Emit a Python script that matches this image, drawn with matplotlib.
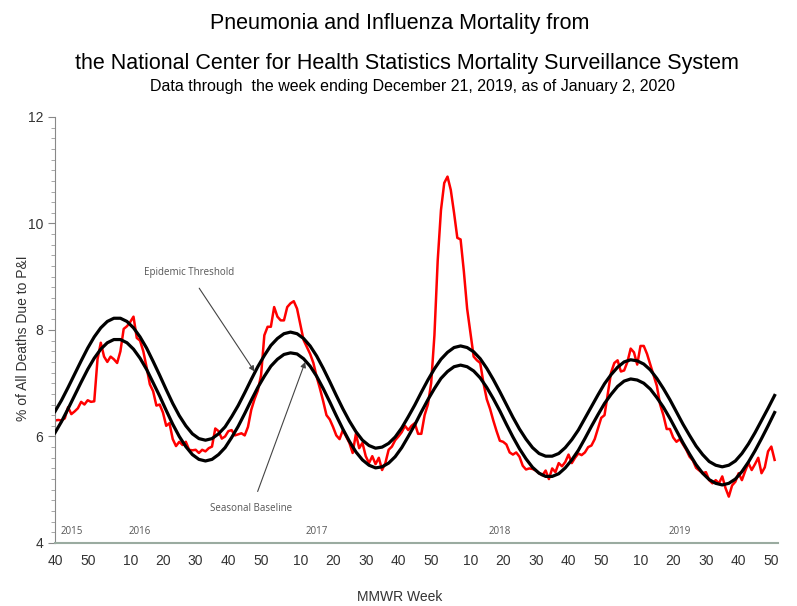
import matplotlib
matplotlib.use("Agg")
import matplotlib.pyplot as plt
from matplotlib.ticker import MultipleLocator

plt.rcParams['font.family'] = ['Liberation Sans', 'DejaVu Sans']

# MMWR weeks: 2015 wk40 .. 2019 wk51 (2015 has 53 weeks)
years = [2015, 2016, 2017, 2018, 2019]
year_first_week = [40, 1, 1, 1, 1]
year_last_week = [53, 52, 52, 52, 51]

# % of all deaths due to P&I, one value per week
pi_pct = [
    6.30, 6.31, 6.30, 6.34, 6.55, 6.42, 6.47, 6.53, 6.65, 6.60,
    6.68, 6.65, 6.66, 7.45, 7.76, 7.50, 7.40, 7.50, 7.45, 7.38,
    7.60, 8.02, 8.07, 8.15, 8.25, 7.85, 7.80, 7.60, 7.30, 6.98,
    6.85, 6.58, 6.60, 6.45, 6.20, 6.25, 5.95, 5.82, 5.90, 5.84,
    5.90, 5.75, 5.74, 5.75, 5.69, 5.75, 5.72, 5.78, 5.81, 6.15,
    6.10, 5.96, 6.00, 6.10, 6.12, 6.02, 6.04, 6.06, 6.02, 6.18,
    6.50, 6.70, 6.86, 7.15, 7.90, 8.06, 8.06, 8.43, 8.25, 8.18,
    8.18, 8.43, 8.50, 8.54, 8.40, 8.10, 7.81, 7.68, 7.55, 7.38,
    7.12, 6.90, 6.66, 6.40, 6.32, 6.18, 6.02, 5.95, 6.12, 6.00,
    5.88, 5.69, 6.05, 5.78, 5.88, 5.63, 5.50, 5.63, 5.48, 5.60,
    5.37, 5.50, 5.75, 5.81, 5.93, 6.00, 6.08, 6.20, 6.12, 6.20,
    6.25, 6.05, 6.05, 6.40, 6.60, 7.00, 7.90, 9.30, 10.25, 10.76,
    10.88, 10.63, 10.20, 9.73, 9.70, 9.10, 8.40, 7.95, 7.50, 7.43,
    7.38, 7.00, 6.70, 6.52, 6.30, 6.10, 5.92, 5.90, 5.85, 5.70,
    5.66, 5.70, 5.62, 5.45, 5.38, 5.40, 5.39, 5.36, 5.31, 5.27,
    5.36, 5.20, 5.40, 5.33, 5.50, 5.44, 5.52, 5.66, 5.50, 5.60,
    5.68, 5.65, 5.70, 5.80, 5.83, 5.95, 6.15, 6.35, 6.40, 6.80,
    7.20, 7.38, 7.43, 7.22, 7.24, 7.40, 7.65, 7.58, 7.35, 7.70,
    7.70, 7.55, 7.35, 7.15, 6.95, 6.60, 6.40, 6.14, 6.14, 5.98,
    5.90, 5.95, 5.85, 5.75, 5.62, 5.55, 5.41, 5.36, 5.31, 5.33,
    5.18, 5.12, 5.18, 5.12, 5.25, 5.03, 4.87, 5.08, 5.15, 5.31,
    5.18, 5.35, 5.50, 5.37, 5.48, 5.60, 5.31, 5.42, 5.72, 5.81,
    5.56,
]

# threshold and baseline, read every second week
threshold = [
    6.47, 6.68, 6.92, 7.17, 7.42, 7.66, 7.87, 8.04, 8.16, 8.22,
    8.22, 8.16, 8.04, 7.87, 7.66, 7.41, 7.15, 6.88, 6.62, 6.39, 6.20, 6.05, 5.96, 5.93,
    5.96, 6.05, 6.18, 6.37, 6.58, 6.82, 7.07, 7.31, 7.52, 7.71, 7.84, 7.93, 7.96,
    7.93, 7.84, 7.70, 7.51, 7.28, 7.03, 6.77, 6.52, 6.29, 6.09, 5.93, 5.83, 5.78,
    5.80, 5.87, 5.99, 6.16, 6.37, 6.59, 6.83, 7.06, 7.27, 7.45, 7.58, 7.67, 7.70,
    7.67, 7.59, 7.46, 7.28, 7.07, 6.84, 6.60, 6.36, 6.14, 5.95, 5.79, 5.68, 5.63,
    5.63, 5.68, 5.79, 5.94, 6.12, 6.34, 6.56, 6.78, 6.99, 7.16, 7.30, 7.40, 7.44,
    7.42, 7.36, 7.25, 7.09, 6.90, 6.69, 6.46, 6.23, 6.02, 5.82, 5.66, 5.53, 5.46, 5.43,
    5.46, 5.54, 5.68, 5.86, 6.07, 6.30, 6.53, 6.77,
]
baseline = [
    6.07, 6.28, 6.52, 6.77, 7.02, 7.26, 7.47, 7.64, 7.76, 7.82,
    7.82, 7.76, 7.64, 7.47, 7.26, 7.01, 6.76, 6.49, 6.23, 6.00, 5.81, 5.66, 5.57, 5.54,
    5.57, 5.66, 5.79, 5.98, 6.19, 6.43, 6.68, 6.92, 7.13, 7.32, 7.45, 7.54, 7.57,
    7.55, 7.46, 7.32, 7.13, 6.90, 6.65, 6.39, 6.14, 5.91, 5.71, 5.56, 5.46, 5.41,
    5.43, 5.50, 5.62, 5.79, 6.00, 6.22, 6.46, 6.69, 6.90, 7.09, 7.22, 7.31, 7.34,
    7.31, 7.23, 7.10, 6.92, 6.71, 6.48, 6.23, 5.99, 5.77, 5.58, 5.42, 5.31, 5.25,
    5.25, 5.30, 5.41, 5.56, 5.74, 5.96, 6.19, 6.41, 6.62, 6.79, 6.94, 7.04, 7.08,
    7.06, 7.00, 6.89, 6.73, 6.55, 6.34, 6.11, 5.88, 5.67, 5.47, 5.31, 5.19, 5.12, 5.09,
    5.12, 5.20, 5.34, 5.52, 5.73, 5.96, 6.20, 6.45,
]

year_label_pos = [5, 26, 80, 136, 191]

weeks = []
for fw, lw in zip(year_first_week, year_last_week):
    weeks += list(range(fw, lw + 1))
x = list(range(len(weeks)))
x2 = x[::2]

fig = plt.figure(figsize=(7.97, 6.06), dpi=100)
ax = fig.add_axes([0.069, 0.104, 0.907, 0.703])

ax.plot(x, pi_pct, color='#ff0000', lw=1.8, zorder=2)
ax.plot(x2, threshold, color='black', lw=2.3, zorder=3)
ax.plot(x2, baseline, color='black', lw=2.3, zorder=3)

ax.set_xlim(0, 221)
ax.set_ylim(4, 12)

ticks = [i for i, w in enumerate(weeks) if w % 10 == 0]
ax.set_xticks(ticks)
ax.set_xticklabels([str(weeks[i]) for i in ticks])
ax.set_yticks([4, 6, 8, 10, 12])
ax.yaxis.set_minor_locator(MultipleLocator(0.2))
ax.tick_params(axis='x', length=0, pad=8, labelsize=10, labelcolor='#333333')
ax.tick_params(axis='y', which='major', length=5, color='#888888', labelsize=10,
               labelcolor='#333333')
ax.tick_params(axis='y', which='minor', length=3, color='#999999')

for s in ['top', 'right']:
    ax.spines[s].set_visible(False)
ax.spines['left'].set_color('#888888')
ax.spines['bottom'].set_color('#9aaba0')
ax.spines['bottom'].set_linewidth(1.5)

for yr, pos in zip(years, year_label_pos):
    ax.text(pos, 4.22, str(yr), fontsize=7, color='#555555', ha='center',
            va='center', family=['Open Sans', 'DejaVu Sans'])

ax.set_ylabel('% of All Deaths Due to P&I', fontsize=10, color='#333333')
ax.yaxis.set_label_coords(-0.035, 0.48)
fig.text(0.502, 0.004, 'MMWR Week', ha='center', va='bottom', fontsize=10,
         color='#333333')

ax.annotate('Epidemic Threshold', xy=(61, 7.22), xytext=(41, 9.07),
            fontsize=7, color='#555555', ha='center', va='center',
            family=['Open Sans', 'DejaVu Sans'],
            arrowprops=dict(arrowstyle='-|>', color='#444444', lw=0.8,
                            mutation_scale=8, shrinkA=6, shrinkB=0))
ax.annotate('Seasonal Baseline', xy=(76.5, 7.40), xytext=(60, 4.64),
            fontsize=7, color='#555555', ha='center', va='center',
            family=['Open Sans', 'DejaVu Sans'],
            arrowprops=dict(arrowstyle='-|>', color='#444444', lw=0.8,
                            mutation_scale=8, shrinkA=7, shrinkB=0))

fig.text(0.502, 0.962, 'Pneumonia and Influenza Mortality from', ha='center',
         va='center', fontsize=15.5)
fig.text(0.51, 0.895, 'the National Center for Health Statistics Mortality Surveillance System',
         ha='center', va='center', fontsize=15.5)
fig.text(0.518, 0.858, 'Data through  the week ending December 21, 2019, as of January 2, 2020',
         ha='center', va='center', fontsize=11.5)

fig.savefig('out.png', dpi=100)
